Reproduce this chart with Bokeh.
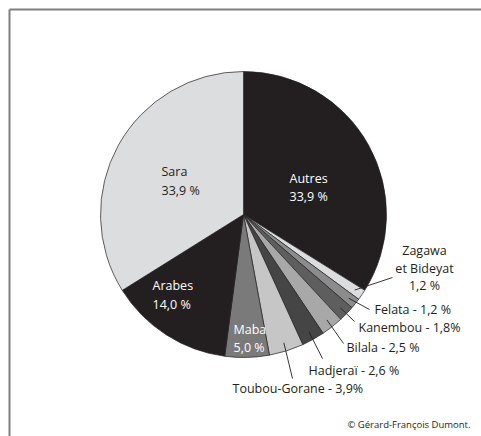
import math
from bokeh.plotting import figure
from bokeh.models import Range1d, ColumnDataSource
from bokeh.embed import file_html
from bokeh.resources import INLINE
from bokeh.core.properties import value

# ---- data ----
groups = ["Autres", "Zagawa et Bideyat", "Felata", "Kanembou", "Bilala",
          "Hadjeraï", "Toubou-Gorane", "Maba", "Arabes", "Sara"]
shares = [33.9, 1.2, 1.2, 1.8, 2.5, 2.6, 3.9, 5.0, 14.0, 33.9]
pct_sep = [" %", " %", " %", "%", " %", " %", "%", " %", " %", " %"]
colors = ["#231f20", "#dcdddf", "#8c8c8c", "#5e5e5e", "#a8a8a8",
          "#454545", "#c6c6c6", "#7a7a7a", "#231f20", "#dcdddf"]
credit = "© Gérard-François Dumont."

# ---- layout ----
W, H = 481, 436
FONT = value("Open Sans")


def S(sx, sy):
    """page pixel -> plot coords"""
    return sx, H - sy


cx, cy = S(243, 214)
R = 143

p = figure(width=W, height=H, x_range=Range1d(0, W), y_range=Range1d(0, H),
           output_backend="svg", toolbar_location=None, min_border=0,
           x_axis_location=None, y_axis_location=None)
p.grid.visible = False
p.outline_line_color = None
p.background_fill_color = "white"
p.border_fill_color = "white"

# frame (top and left only)
fx, fy = S(9, 9)
p.segment(x0=[fx, fx], y0=[0, fy], x1=[fx, W], y1=[fy, fy],
          line_color="#7f7f7f", line_width=2)

total = sum(shares)
starts, ends, mids = [], [], []
acc = 0.0
for v in shares:
    a0 = math.pi / 2 - 2 * math.pi * acc / total
    acc += v
    a1 = math.pi / 2 - 2 * math.pi * acc / total
    starts.append(a0)
    ends.append(a1)
    mids.append((a0 + a1) / 2)

src = ColumnDataSource(dict(x=[cx] * len(shares), y=[cy] * len(shares),
                            start=starts, end=ends, color=colors))
p.wedge(x="x", y="y", radius=R, radius_units="screen", start_angle="start",
        end_angle="end", direction="clock", fill_color="color",
        line_color="#231f20", line_width=0.7, source=src)


def pct(i):
    return f"{shares[i]:.1f}".replace(".", ",") + pct_sep[i]


fs = "12.5px"

# inner labels (name / value on two lines)
inner = {0: (289, 178, 196, "white"), 9: (161, 171, 190, "#231f20"),
         8: (152, 285, 304, "white"), 7: (233, 329, 347, "white")}
tx, ty, tt, tc = [], [], [], []
for i, (sx, sy1, sy2, c) in inner.items():
    x, y = S(sx, sy1)
    tx.append(x); ty.append(y); tt.append(groups[i]); tc.append(c)
    x, y = S(sx, sy2)
    tx.append(x); ty.append(y); tt.append(pct(i)); tc.append(c)
p.text(x=tx, y=ty, text=tt, text_color=tc, text_font=FONT,
       text_font_size=fs, text_baseline="middle", text_align="left")

# Zagawa label (centered, three lines)
zparts = groups[1].split(" ", 1)
zlines = [zparts[0], zparts[1], pct(1)]
zx, zys = 424, [250, 268, 285]
p.text(x=[S(zx, y)[0] for y in zys], y=[S(zx, y)[1] for y in zys], text=zlines,
       text_color="#231f20", text_font=FONT, text_font_size=fs,
       text_baseline="middle", text_align="center")

# outer labels
outer = {2: (374, 309), 3: (358, 327), 4: (346, 347), 5: (308, 370), 6: (232, 388)}
ox, oy, ot = [], [], []
for i, (sx, sy) in outer.items():
    x, y = S(sx, sy)
    ox.append(x); oy.append(y); ot.append(f"{groups[i]} - {pct(i)}")
p.text(x=ox, y=oy, text=ot, text_color="#231f20", text_font=FONT,
       text_font_size=fs, text_baseline="middle", text_align="left")

# leader lines
line_ends = {1: (392, 277), 2: (369, 309), 3: (354, 321), 4: (343, 343),
             5: (322, 358), 6: (292, 378)}
lx0, ly0, lx1, ly1 = [], [], [], []
for i, (sx, sy) in line_ends.items():
    a = mids[i]
    lx0.append(cx + 0.94 * R * math.cos(a))
    ly0.append(cy + 0.94 * R * math.sin(a))
    x, y = S(sx, sy)
    lx1.append(x); ly1.append(y)
p.segment(x0=lx0, y0=ly0, x1=lx1, y1=ly1, line_color="#231f20", line_width=0.9)

# credit
x, y = S(470, 424)
p.text(x=[x], y=[y], text=[credit], text_color="#231f20", text_font=FONT,
       text_font_size="9.5px", text_baseline="middle", text_align="right")

open("out.html", "w").write(file_html(p, INLINE))
